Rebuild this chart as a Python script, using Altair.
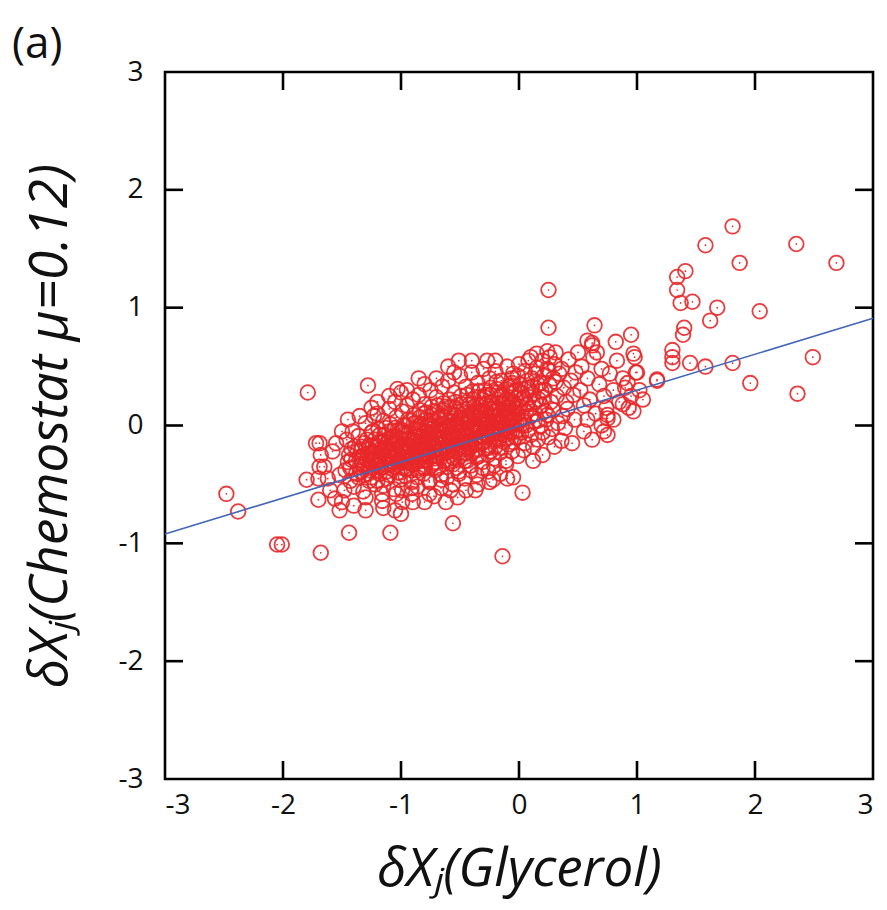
import altair as alt
import pandas as pd

# ---- data ----
outlier_pts = [
    (1.81, 1.69), (1.58, 1.53), (2.35, 1.54), (1.87, 1.38), (2.69, 1.38), (0.25, 1.15),
    (1.34, 1.26), (1.41, 1.31), (1.34, 1.15), (1.37, 1.04), (1.47, 1.05), (1.68, 1.00),
    (1.62, 0.89), (2.04, 0.97), (0.25, 0.83), (0.64, 0.85), (1.40, 0.83), (1.39, 0.77),
    (0.58, 0.72), (0.62, 0.70), (0.82, 0.71), (0.95, 0.77), (0.97, 0.61), (0.98, 0.58),
    (0.99, 0.45), (1.30, 0.64), (1.30, 0.58), (1.30, 0.53), (1.45, 0.53), (1.58, 0.50),
    (1.81, 0.53), (2.49, 0.58), (1.96, 0.36), (2.36, 0.27), (1.17, 0.38), (0.75, 0.09),
    (0.75, 0.06), (0.75, -0.08), (0.36, -0.13), (0.03, -0.57), (-2.48, -0.58), (-2.38, -0.73),
    (-2.05, -1.01), (-2.01, -1.01), (-1.68, -1.08), (-1.44, -0.91), (-1.09, -0.91), (-1.00, -0.75),
    (-0.56, -0.83), (-0.14, -1.11), (-1.80, -0.46), (-1.69, -0.15), (-1.79, 0.28), (-1.28, 0.34),
    (-0.51, 0.55), (-0.27, 0.55), (-1.03, 0.31), (-0.22, -0.46), (-0.37, -0.55), (-0.05, -0.44),
    (1.17, 0.39), (1.00, 0.45), (-1.69, -0.35), (-1.70, -0.63), (-1.52, -0.72),
    (0.92, 0.36), (1.02, 0.30), (0.88, 0.18), (0.97, 0.12), (1.05, 0.22), (0.80, 0.05),
    (0.72, -0.05), (0.62, -0.12), (0.55, -0.05), (0.45, -0.15), (0.30, -0.18), (0.20, -0.25),
    (0.12, -0.30),
]

halo_pts = [
    (-1.65, -0.35), (-1.62, -0.45), (-1.58, -0.22), (-1.60, -0.55), (-1.55, -0.15), (-1.56, -0.62),
    (-1.52, -0.42), (-1.50, -0.05), (-1.68, -0.25), (-1.50, -0.65), (-1.45, 0.05), (-1.40, -0.68),
    (-1.35, 0.08), (-1.30, -0.72), (-1.20, 0.20), (-1.15, -0.70), (-1.10, 0.25), (-1.05, -0.72),
    (-0.95, 0.30), (-0.90, -0.65), (-0.80, 0.35), (-0.80, -0.65), (-0.70, 0.40), (-0.72, -0.60),
    (-0.60, 0.50), (-0.62, -0.65), (-0.45, -0.55), (-0.35, -0.50), (-0.40, 0.55), (-0.20, 0.55),
    (-0.25, -0.48), (-0.10, -0.45), (-0.85, 0.40), (-1.25, 0.15), (-0.55, 0.45), (-1.70, -0.45),
    (-1.72, -0.15),
    (0.36, 0.48), (0.38, 0.32), (0.40, 0.20), (0.37, 0.08), (0.42, 0.56), (0.44, 0.38),
    (0.46, 0.26), (0.41, 0.14), (0.48, 0.45), (0.50, 0.62), (0.47, 0.05), (0.39, -0.02),
    (0.52, 0.30), (0.55, 0.17), (0.53, 0.50), (0.58, 0.40), (0.60, 0.22), (0.63, 0.58),
    (0.65, 0.10), (0.68, 0.35), (0.70, 0.48), (0.72, 0.25), (0.74, 0.15), (0.77, 0.44),
    (0.80, 0.30), (0.83, 0.55), (0.85, 0.20), (0.88, 0.40), (0.90, 0.32), (0.93, 0.15),
    (0.95, 0.25), (0.58, 0.05), (0.62, 0.68), (0.66, 0.62), (0.70, 0.00),
]

core_pts = [
    (-1.46, -0.12), (-1.44, -0.25), (-1.47, -0.38), (-1.43, -0.47), (-1.45, -0.31), (-1.48, -0.55),
    (-1.41, -0.05), (-1.39, -0.18), (-1.42, -0.29), (-1.38, -0.41), (-1.40, -0.52), (-1.37, -0.22), (-1.43, -0.36),
    (-1.36, -0.09), (-1.34, -0.21), (-1.33, -0.33), (-1.36, -0.44), (-1.32, -0.56), (-1.35, -0.27), (-1.31, -0.15), (-1.34, -0.39),
    (-1.30, 0.02), (-1.29, -0.12), (-1.28, -0.24), (-1.31, -0.35), (-1.27, -0.47), (-1.30, -0.61), (-1.26, -0.30), (-1.29, -0.19), (-1.28, -0.41),
    (-1.25, -0.06), (-1.24, -0.17), (-1.23, -0.28), (-1.26, -0.38), (-1.22, -0.50), (-1.24, -0.23), (-1.21, -0.34), (-1.25, -0.44), (-1.23, 0.08), (-1.22, -0.12),
    (-1.20, 0.10), (-1.19, -0.03), (-1.18, -0.14), (-1.21, -0.25), (-1.17, -0.36), (-1.20, -0.47), (-1.16, -0.58), (-1.19, -0.30), (-1.17, -0.20), (-1.18, -0.41),
    (-1.15, 0.04), (-1.14, -0.08), (-1.13, -0.19), (-1.16, -0.29), (-1.12, -0.39), (-1.15, -0.51), (-1.11, -0.26), (-1.13, -0.33), (-1.14, -0.13), (-1.12, -0.45), (-1.16, -0.64),
    (-1.10, 0.14), (-1.09, 0.01), (-1.08, -0.10), (-1.11, -0.21), (-1.07, -0.31), (-1.10, -0.42), (-1.06, -0.54), (-1.09, -0.27), (-1.08, -0.16), (-1.07, -0.37), (-1.10, -0.05),
    (-1.05, 0.20), (-1.04, 0.07), (-1.03, -0.04), (-1.06, -0.15), (-1.02, -0.25), (-1.05, -0.35), (-1.01, -0.46), (-1.04, -0.58), (-1.03, -0.21), (-1.02, -0.30), (-1.06, -0.09), (-1.01, -0.40),
    (-1.00, 0.28), (-0.99, 0.12), (-0.98, 0.00), (-1.01, -0.11), (-0.97, -0.22), (-1.00, -0.32), (-0.96, -0.43), (-0.99, -0.55), (-0.98, -0.17), (-0.97, -0.27), (-1.01, -0.06), (-0.96, -0.37), (-0.99, -0.65),
    (-0.95, 0.17), (-0.94, 0.05), (-0.93, -0.06), (-0.96, -0.16), (-0.92, -0.26), (-0.95, -0.37), (-0.91, -0.48), (-0.94, -0.22), (-0.93, -0.12), (-0.92, -0.32), (-0.96, 0.00), (-0.91, -0.58),
    (-0.90, 0.22), (-0.89, 0.09), (-0.88, -0.03), (-0.91, -0.13), (-0.87, -0.23), (-0.90, -0.33), (-0.86, -0.44), (-0.89, -0.19), (-0.88, -0.08), (-0.87, -0.29), (-0.91, -0.53), (-0.86, -0.38), (-0.89, 0.02),
    (-0.85, 0.26), (-0.84, 0.13), (-0.83, 0.01), (-0.86, -0.10), (-0.82, -0.20), (-0.85, -0.30), (-0.81, -0.41), (-0.84, -0.16), (-0.83, -0.06), (-0.82, -0.26), (-0.86, -0.52), (-0.81, -0.35), (-0.84, 0.07),
    (-0.80, 0.18), (-0.79, 0.05), (-0.78, -0.05), (-0.81, -0.15), (-0.77, -0.25), (-0.80, -0.36), (-0.76, -0.47), (-0.79, -0.11), (-0.78, -0.20), (-0.77, 0.00), (-0.81, -0.30), (-0.76, -0.58), (-0.79, 0.11),
    (-0.75, 0.30), (-0.74, 0.16), (-0.73, 0.04), (-0.76, -0.07), (-0.72, -0.17), (-0.75, -0.27), (-0.71, -0.38), (-0.74, -0.12), (-0.73, -0.02), (-0.72, -0.22), (-0.76, -0.48), (-0.71, -0.32), (-0.74, 0.09),
    (-0.70, 0.24), (-0.69, 0.11), (-0.68, 0.00), (-0.71, -0.10), (-0.67, -0.20), (-0.70, -0.31), (-0.66, -0.42), (-0.69, -0.05), (-0.68, -0.15), (-0.67, 0.06), (-0.71, -0.26), (-0.66, -0.53), (-0.69, 0.17),
    (-0.65, 0.33), (-0.64, 0.19), (-0.63, 0.07), (-0.66, -0.04), (-0.62, -0.14), (-0.65, -0.24), (-0.61, -0.35), (-0.64, 0.01), (-0.63, -0.09), (-0.62, -0.19), (-0.66, -0.46), (-0.61, -0.29), (-0.64, 0.13),
    (-0.60, 0.38), (-0.59, 0.22), (-0.58, 0.10), (-0.61, -0.01), (-0.57, -0.11), (-0.60, -0.22), (-0.56, -0.33), (-0.59, 0.04), (-0.58, -0.06), (-0.57, -0.16), (-0.61, -0.44), (-0.56, -0.27), (-0.59, 0.15), (-0.58, -0.55),
    (-0.55, 0.28), (-0.54, 0.15), (-0.53, 0.03), (-0.56, -0.07), (-0.52, -0.17), (-0.55, -0.28), (-0.51, -0.39), (-0.54, 0.09), (-0.53, -0.02), (-0.52, -0.12), (-0.56, -0.50), (-0.51, -0.23), (-0.54, 0.20), (-0.52, -0.61),
    (-0.50, 0.42), (-0.49, 0.25), (-0.48, 0.12), (-0.51, 0.01), (-0.47, -0.09), (-0.50, -0.19), (-0.46, -0.30), (-0.49, 0.06), (-0.48, -0.04), (-0.47, -0.14), (-0.51, -0.41), (-0.46, -0.24), (-0.49, 0.18),
    (-0.45, 0.33), (-0.44, 0.20), (-0.43, 0.08), (-0.46, -0.03), (-0.42, -0.13), (-0.45, -0.23), (-0.41, -0.34), (-0.44, 0.14), (-0.43, 0.02), (-0.42, -0.08), (-0.46, -0.45), (-0.41, -0.18), (-0.44, 0.26),
    (-0.40, 0.45), (-0.39, 0.29), (-0.38, 0.16), (-0.41, 0.04), (-0.37, -0.06), (-0.40, -0.16), (-0.36, -0.27), (-0.39, 0.10), (-0.38, -0.01), (-0.37, -0.11), (-0.41, -0.38), (-0.36, -0.21), (-0.39, 0.22),
    (-0.35, 0.36), (-0.34, 0.24), (-0.33, 0.12), (-0.36, 0.01), (-0.32, -0.09), (-0.35, -0.20), (-0.31, -0.31), (-0.34, 0.06), (-0.33, -0.04), (-0.32, 0.17), (-0.36, -0.42), (-0.31, -0.15), (-0.34, 0.29),
    (-0.30, 0.48), (-0.29, 0.30), (-0.28, 0.18), (-0.31, 0.06), (-0.27, -0.04), (-0.30, -0.14), (-0.26, -0.25), (-0.29, 0.12), (-0.28, 0.01), (-0.27, -0.09), (-0.31, -0.36), (-0.26, -0.19), (-0.29, 0.24),
    (-0.25, 0.40), (-0.24, 0.26), (-0.23, 0.14), (-0.26, 0.03), (-0.22, -0.07), (-0.25, -0.17), (-0.21, -0.28), (-0.24, 0.09), (-0.23, -0.02), (-0.22, 0.19), (-0.26, -0.39), (-0.21, -0.12), (-0.24, 0.32),
    (-0.20, 0.46), (-0.19, 0.31), (-0.18, 0.19), (-0.21, 0.08), (-0.17, -0.02), (-0.20, -0.12), (-0.16, -0.23), (-0.19, 0.13), (-0.18, 0.03), (-0.17, 0.24), (-0.21, -0.34), (-0.16, -0.07), (-0.19, 0.37),
    (-0.15, 0.38), (-0.14, 0.25), (-0.13, 0.13), (-0.16, 0.02), (-0.12, -0.08), (-0.15, -0.19), (-0.11, -0.30), (-0.14, 0.08), (-0.13, 0.19), (-0.12, -0.03), (-0.16, -0.41), (-0.11, 0.31),
    (-0.10, 0.50), (-0.09, 0.33), (-0.08, 0.21), (-0.11, 0.09), (-0.07, -0.01), (-0.10, -0.11), (-0.06, -0.22), (-0.09, 0.15), (-0.08, 0.04), (-0.07, 0.27), (-0.11, -0.33), (-0.06, 0.40),
    (-0.05, 0.44), (-0.04, 0.29), (-0.03, 0.17), (-0.06, 0.06), (-0.02, -0.04), (-0.05, -0.14), (-0.01, -0.26), (-0.04, 0.11), (-0.03, 0.23), (-0.02, 0.01), (-0.06, 0.36),
    (0.00, 0.52), (0.01, 0.35), (0.02, 0.22), (-0.01, 0.10), (0.03, 0.00), (0.00, -0.10), (0.04, -0.21), (0.01, 0.16), (0.02, 0.28), (0.03, 0.05), (-0.01, 0.42),
    (0.05, 0.46), (0.06, 0.31), (0.07, 0.18), (0.04, 0.07), (0.08, -0.04), (0.05, -0.15), (0.09, 0.24), (0.06, 0.12), (0.07, 0.38), (0.08, 0.55),
    (0.10, 0.58), (0.11, 0.40), (0.12, 0.27), (0.09, 0.14), (0.13, 0.03), (0.10, -0.08), (0.14, 0.20), (0.11, 0.33), (0.12, -0.18),
    (0.15, 0.49), (0.16, 0.35), (0.17, 0.22), (0.14, 0.10), (0.18, -0.01), (0.15, 0.61), (0.19, 0.29), (0.16, -0.12),
    (0.20, 0.55), (0.21, 0.42), (0.22, 0.30), (0.19, 0.17), (0.23, 0.05), (0.20, -0.06), (0.24, 0.63), (0.21, 0.24),
    (0.25, 0.47), (0.26, 0.34), (0.27, 0.20), (0.24, 0.09), (0.28, -0.03), (0.26, 0.58), (0.29, 0.40), (0.25, -0.10),
    (0.30, 0.52), (0.31, 0.37), (0.32, 0.25), (0.29, 0.13), (0.33, 0.02), (0.31, 0.62), (0.34, 0.44),
]

core_extra_pts = [
    (-1.33, -0.26), (-1.31, -0.42), (-1.27, -0.20), (-1.26, -0.36), (-1.24, -0.05), (-1.21, -0.18),
    (-1.19, -0.38), (-1.18, -0.08), (-1.16, -0.22), (-1.14, -0.35), (-1.13, -0.02), (-1.11, -0.15),
    (-1.09, -0.33), (-1.08, -0.22), (-1.06, -0.28), (-1.05, -0.02), (-1.04, -0.12), (-1.03, -0.40),
    (-1.01, -0.18), (-1.00, -0.26), (-0.99, -0.04), (-0.98, -0.36), (-0.97, -0.12), (-0.96, -0.30),
    (-0.95, -0.08), (-0.94, -0.28), (-0.93, -0.17), (-0.92, 0.04), (-0.91, -0.38), (-0.90, -0.24),
    (-0.89, -0.12), (-0.88, -0.32), (-0.87, 0.02), (-0.86, -0.18), (-0.85, -0.04), (-0.84, -0.36),
    (-0.83, -0.24), (-0.82, -0.10), (-0.81, 0.10), (-0.80, -0.20), (-0.79, -0.30), (-0.78, -0.01),
    (-0.77, -0.14), (-0.76, -0.22), (-0.75, 0.04), (-0.74, -0.34), (-0.73, -0.08), (-0.72, 0.12),
    (-0.71, -0.19), (-0.70, -0.04), (-0.69, -0.26), (-0.68, -0.36), (-0.67, -0.10), (-0.66, 0.08),
    (-0.65, -0.16), (-0.64, -0.30), (-0.63, -0.02), (-0.62, 0.16), (-0.61, -0.22), (-0.60, -0.08),
    (-0.59, -0.14), (-0.58, -0.30), (-0.57, 0.06), (-0.56, -0.20), (-0.55, 0.00), (-0.54, -0.10),
    (-0.53, -0.36), (-0.52, 0.12), (-0.51, -0.06), (-0.50, -0.26), (-0.49, -0.12), (-0.48, 0.04),
    (-0.47, -0.20), (-0.46, 0.10), (-0.45, -0.06), (-0.44, -0.30), (-0.43, -0.16), (-0.42, 0.18),
    (-0.41, -0.02), (-0.40, -0.24), (-0.39, -0.08), (-0.38, 0.08), (-0.37, -0.16), (-0.36, 0.14),
    (-0.35, -0.02), (-0.34, -0.26), (-0.33, -0.10), (-0.32, 0.04), (-0.31, 0.22), (-0.30, -0.06),
    (-0.29, -0.20), (-0.28, 0.10), (-0.27, 0.26), (-0.26, -0.10), (-0.25, 0.06), (-0.24, -0.22),
    (-0.23, 0.20), (-0.22, -0.04), (-0.21, 0.12), (-0.20, -0.18), (-0.19, 0.02), (-0.18, 0.28),
    (-0.17, -0.12), (-0.16, 0.10), (-0.15, -0.04), (-0.14, 0.18), (-0.13, -0.14), (-0.12, 0.06),
    (-0.11, 0.22), (-0.10, 0.00), (-0.09, -0.16), (-0.08, 0.12), (-0.07, 0.34), (-0.06, -0.06),
    (-0.05, 0.20), (-0.04, 0.04), (-0.03, -0.10), (-0.02, 0.30), (-0.01, 0.14), (0.00, 0.04),
    (0.02, -0.06), (0.04, 0.24), (0.06, 0.00), (0.08, 0.32), (0.10, 0.08), (0.12, 0.18),
    (0.14, 0.44), (0.16, 0.04), (0.18, 0.36), (0.22, 0.12), (0.24, 0.48),
    (-1.42, -0.20), (-1.38, -0.30), (-1.35, -0.35), (-1.33, -0.18), (-1.29, -0.28), (-1.27, -0.33),
    (-1.25, -0.24), (-1.22, -0.30), (-1.20, -0.17), (-1.18, -0.27), (-1.15, -0.20), (-1.13, -0.27),
    (-1.10, -0.12), (-1.08, -0.28), (-1.06, -0.20), (-1.03, -0.15), (-1.01, -0.30), (-0.99, -0.20),
    (-0.97, -0.07), (-0.95, -0.24), (-0.93, -0.30), (-0.90, -0.15), (-0.88, -0.22), (-0.86, -0.01),
    (-0.84, -0.27), (-0.82, -0.14), (-0.80, -0.06), (-0.78, -0.25), (-0.76, -0.12), (-0.74, -0.03),
    (-0.72, -0.28), (-0.70, -0.15), (-0.68, -0.07), (-0.66, -0.23), (-0.64, -0.11), (-0.62, -0.02),
    (-0.60, -0.17), (-0.58, 0.00), (-0.56, -0.13), (-0.54, -0.22), (-0.52, -0.05), (-0.50, 0.06),
    (-0.48, -0.17), (-0.46, -0.09), (-0.44, 0.03), (-0.42, -0.20), (-0.40, -0.05), (-0.38, 0.11),
    (-0.36, -0.14), (-0.34, -0.03), (-0.32, 0.09), (-0.30, -0.10), (-0.28, 0.04), (-0.26, 0.16),
    (-0.24, -0.06), (-0.22, 0.08), (-0.20, -0.02), (-0.18, 0.14), (-0.16, -0.09), (-0.14, 0.03),
    (-0.12, 0.15), (-0.10, 0.05), (-0.08, -0.06), (-0.06, 0.18), (-0.04, 0.08),
]

fit_x = [-3.0, 3.0]
fit_y = [-0.92, 0.91]

tick_vals = [-2, -1, 0, 1, 2]
panel_label = ["(a)"]

# ---- tables ----
pts = outlier_pts + halo_pts + core_pts + core_extra_pts
df = pd.DataFrame(pts, columns=["gx", "cy"])
fit_df = pd.DataFrame({"gx": fit_x, "cy": fit_y})
ticks_df = pd.DataFrame({"t": tick_vals})
label_df = pd.DataFrame({"label": panel_label})

W, H = 708, 707
RED = "#e8282a"
TICK_LEN = 18
FONT = "Open Sans"

xscale = alt.Scale(domain=[-3, 3], nice=False, zero=False)
yscale = alt.Scale(domain=[-3, 3], nice=False, zero=False)

xaxis = alt.Axis(
    values=[-3, -2, -1, 0, 1, 2, 3], labelExpr="'' + datum.value", ticks=False, domain=False,
    grid=False, labelFontSize=28, labelPadding=12, labelFont=FONT, labelColor="#111",
    title="δXⱼ(Glycerol)", titleFontSize=53, titleFont=FONT, titleFontStyle="italic",
    titleFontWeight="normal", titleColor="#111", titleBaseline="alphabetic", titleY=106,
)
yaxis = alt.Axis(
    values=[-3, -2, -1, 0, 1, 2, 3], labelExpr="'' + datum.value", ticks=False, domain=False,
    grid=False, labelFontSize=28, labelPadding=22, labelFont=FONT, labelColor="#111",
    title="δXⱼ(Chemostat μ=0.12)", titleFontSize=53, titleFont=FONT, titleFontStyle="italic",
    titleFontWeight="normal", titleColor="#111", titleX=-99, titleBaseline="alphabetic",
)

circles = alt.Chart(df).mark_point(
    shape="circle", filled=False, size=215, strokeWidth=1.8, color=RED, opacity=0.9
).encode(
    x=alt.X("gx:Q", scale=xscale, axis=xaxis),
    y=alt.Y("cy:Q", scale=yscale, axis=yaxis),
)

dots = alt.Chart(df).mark_circle(size=3, color=RED, opacity=1).encode(
    x=alt.X("gx:Q", scale=xscale), y=alt.Y("cy:Q", scale=yscale)
)

fit = alt.Chart(fit_df).mark_line(color="#4466b8", strokeWidth=1.6).encode(
    x=alt.X("gx:Q", scale=xscale), y=alt.Y("cy:Q", scale=yscale)
)

tick_style = dict(color="black", strokeWidth=2.6)
bottom_ticks = alt.Chart(ticks_df).mark_rule(**tick_style).encode(
    x=alt.X("t:Q", scale=xscale), y=alt.value(H), y2=alt.value(H - TICK_LEN)
)
top_ticks = alt.Chart(ticks_df).mark_rule(**tick_style).encode(
    x=alt.X("t:Q", scale=xscale), y=alt.value(0), y2=alt.value(TICK_LEN)
)
left_ticks = alt.Chart(ticks_df).mark_rule(**tick_style).encode(
    y=alt.Y("t:Q", scale=yscale), x=alt.value(0), x2=alt.value(TICK_LEN)
)
right_ticks = alt.Chart(ticks_df).mark_rule(**tick_style).encode(
    y=alt.Y("t:Q", scale=yscale), x=alt.value(W), x2=alt.value(W - TICK_LEN)
)

panel = alt.Chart(label_df).mark_text(
    font=FONT, fontSize=44, color="#111", align="left", baseline="alphabetic"
).encode(
    text="label:N", x=alt.value(-153), y=alt.value(-14)
)

chart = alt.layer(
    circles, dots, fit, bottom_ticks, top_ticks, left_ticks, right_ticks, panel
).properties(
    width=W, height=H,
    autosize=alt.AutoSizeParams(type="none"),
    padding={"left": 157, "top": 64, "right": 6, "bottom": 123},
).configure(
    background="white"
).configure_view(
    stroke="black", strokeWidth=2.6
)

chart.save("out.html", embed_options={"renderer": "svg", "actions": False})
